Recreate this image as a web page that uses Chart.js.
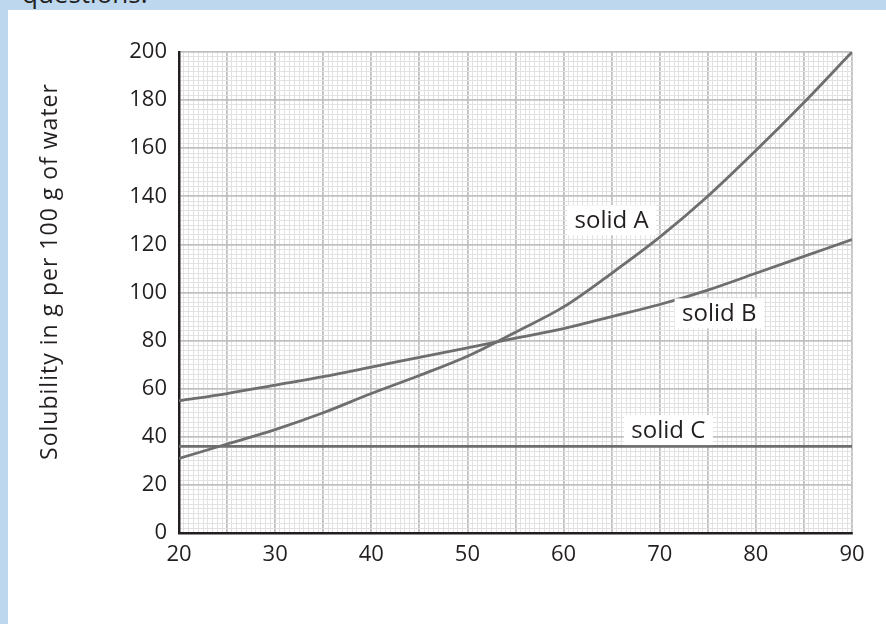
<!DOCTYPE html>
<html>
<head>
<meta charset="utf-8">
<script src="https://cdn.jsdelivr.net/npm/chart.js@4.4.1/dist/chart.umd.min.js"></script>
<style>
    body { margin: 0; background: #bcd7ee; width: 886px; height: 624px; overflow: hidden; position: relative; }
    #top-text { position: absolute; left: 22px; top: -25px; font: 26px "Open Sans", sans-serif; color: #231f20; }
    #panel { position: absolute; left: 8px; top: 10px; right: 0; bottom: 0; background: #fff; }
    canvas { position: absolute; left: 0; top: 0; }
</style>
</head>
<body>
<div id="top-text">questions.</div>
<div id="panel"></div>
<canvas id="chart" width="886" height="624"></canvas>
<script>
// Temperature in °C, solubility in g per 100 g of water
const temps = [20, 25, 30, 35, 40, 45, 50, 55, 60, 65, 70, 75, 80, 85, 90];
const solidA = [31, 37, 43, 50, 58, 65.5, 73.5, 83.5, 94, 108, 123, 140, 159, 179, 200];
const solidB = [55, 58, 61.5, 65, 69, 73, 77, 81, 85, 90, 95, 101, 108, 115, 122];
const tempsC = [20, 90];
const solidC = [36, 36];

const xTickLabels = [20, 30, 40, 50, 60, 70, 80, 90];
const yTickLabels = [0, 20, 40, 60, 80, 100, 120, 140, 160, 180, 200];

const curveNames = ['solid A', 'solid B', 'solid C'];
const yTitle = 'Solubility in g per 100 g of water';

const ink = '#231f20';
const curveColor = '#6e6e6e';

function points(xs, ys) {
    return xs.map((x, i) => ({ x: x, y: ys[i] }));
}

// white boxed labels next to each curve (anchor in data units)
const labelAnchors = [[65, 130], [76.2, 91.3], [70.9, 42.8]];
const curveLabelPlugin = {
    id: 'curveLabels',
    afterDatasetsDraw: function(chart) {
        const ctx = chart.ctx;
        const xs = chart.scales.x, ys = chart.scales.y;
        ctx.save();
        ctx.font = '24px "Open Sans"';
        ctx.textAlign = 'center';
        ctx.textBaseline = 'middle';
        curveNames.forEach(function(name, i) {
            const px = xs.getPixelForValue(labelAnchors[i][0]);
            const py = ys.getPixelForValue(labelAnchors[i][1]);
            const w = ctx.measureText(name).width + 15;
            const h = 30;
            ctx.fillStyle = '#fff';
            ctx.fillRect(px - w / 2, py - h / 2, w, h);
            ctx.fillStyle = ink;
            ctx.fillText(name, px, py + 1);
        });
        ctx.restore();
    }
};

// rotated axis title, sits a little above the middle of the plot
const yTitlePlugin = {
    id: 'yTitle',
    afterDraw: function(chart) {
        const ctx = chart.ctx;
        const area = chart.chartArea;
        ctx.save();
        ctx.translate(50, (area.top + area.bottom) / 2 - 21);
        ctx.rotate(-Math.PI / 2);
        ctx.font = '23px "Open Sans"';
        ctx.letterSpacing = '1px';
        ctx.fillStyle = ink;
        ctx.textAlign = 'center';
        ctx.textBaseline = 'middle';
        ctx.fillText(yTitle, 0, 0);
        ctx.restore();
    }
};

const ctx = document.getElementById('chart').getContext('2d');
new Chart(ctx, {
    type: 'line',
    data: {
        datasets: [
            { label: curveNames[0], data: points(temps, solidA) },
            { label: curveNames[1], data: points(temps, solidB) },
            { label: curveNames[2], data: points(tempsC, solidC) }
        ].map(function(d) {
            return Object.assign(d, {
                borderColor: curveColor,
                borderWidth: 2.8,
                pointRadius: 0,
                cubicInterpolationMode: 'monotone',
                fill: false
            });
        })
    },
    options: {
        responsive: false,
        animation: false,
        layout: { padding: { left: 38, top: 52, right: 34, bottom: 0 } },
        plugins: { legend: { display: false }, tooltip: { enabled: false } },
        scales: {
            x: {
                type: 'linear',
                min: 20,
                max: 90,
                afterFit: function(scale) { scale.height = 91; },
                border: { display: true, color: ink, width: 2.5 },
                grid: {
                    drawTicks: false,
                    color: function(c) { return c.tick && c.tick.value % 5 === 0 ? '#c0c0c0' : '#e2e2e2'; },
                    lineWidth: function(c) { return c.tick && c.tick.value % 5 === 0 ? 1.8 : 1; }
                },
                ticks: {
                    stepSize: 0.5,
                    autoSkip: false,
                    maxRotation: 0,
                    padding: 9,
                    color: ink,
                    font: { family: 'Open Sans', size: 22 },
                    callback: function(v) { return xTickLabels.includes(v) ? String(v) : ''; }
                }
            },
            y: {
                min: 0,
                max: 200,
                afterFit: function(scale) { scale.width = 141; },
                border: { display: true, color: ink, width: 2.5 },
                grid: {
                    drawTicks: false,
                    color: function(c) { return c.tick && c.tick.value % 20 === 0 ? '#c0c0c0' : '#e2e2e2'; },
                    lineWidth: function(c) { return c.tick && c.tick.value % 20 === 0 ? 1.8 : 1; }
                },
                ticks: {
                    stepSize: 2,
                    autoSkip: false,
                    padding: 12,
                    color: ink,
                    font: { family: 'Open Sans', size: 22 },
                    callback: function(v) { return yTickLabels.includes(v) ? String(v) : ''; }
                }
            }
        }
    },
    plugins: [curveLabelPlugin, yTitlePlugin]
});
</script>
</body>
</html>
